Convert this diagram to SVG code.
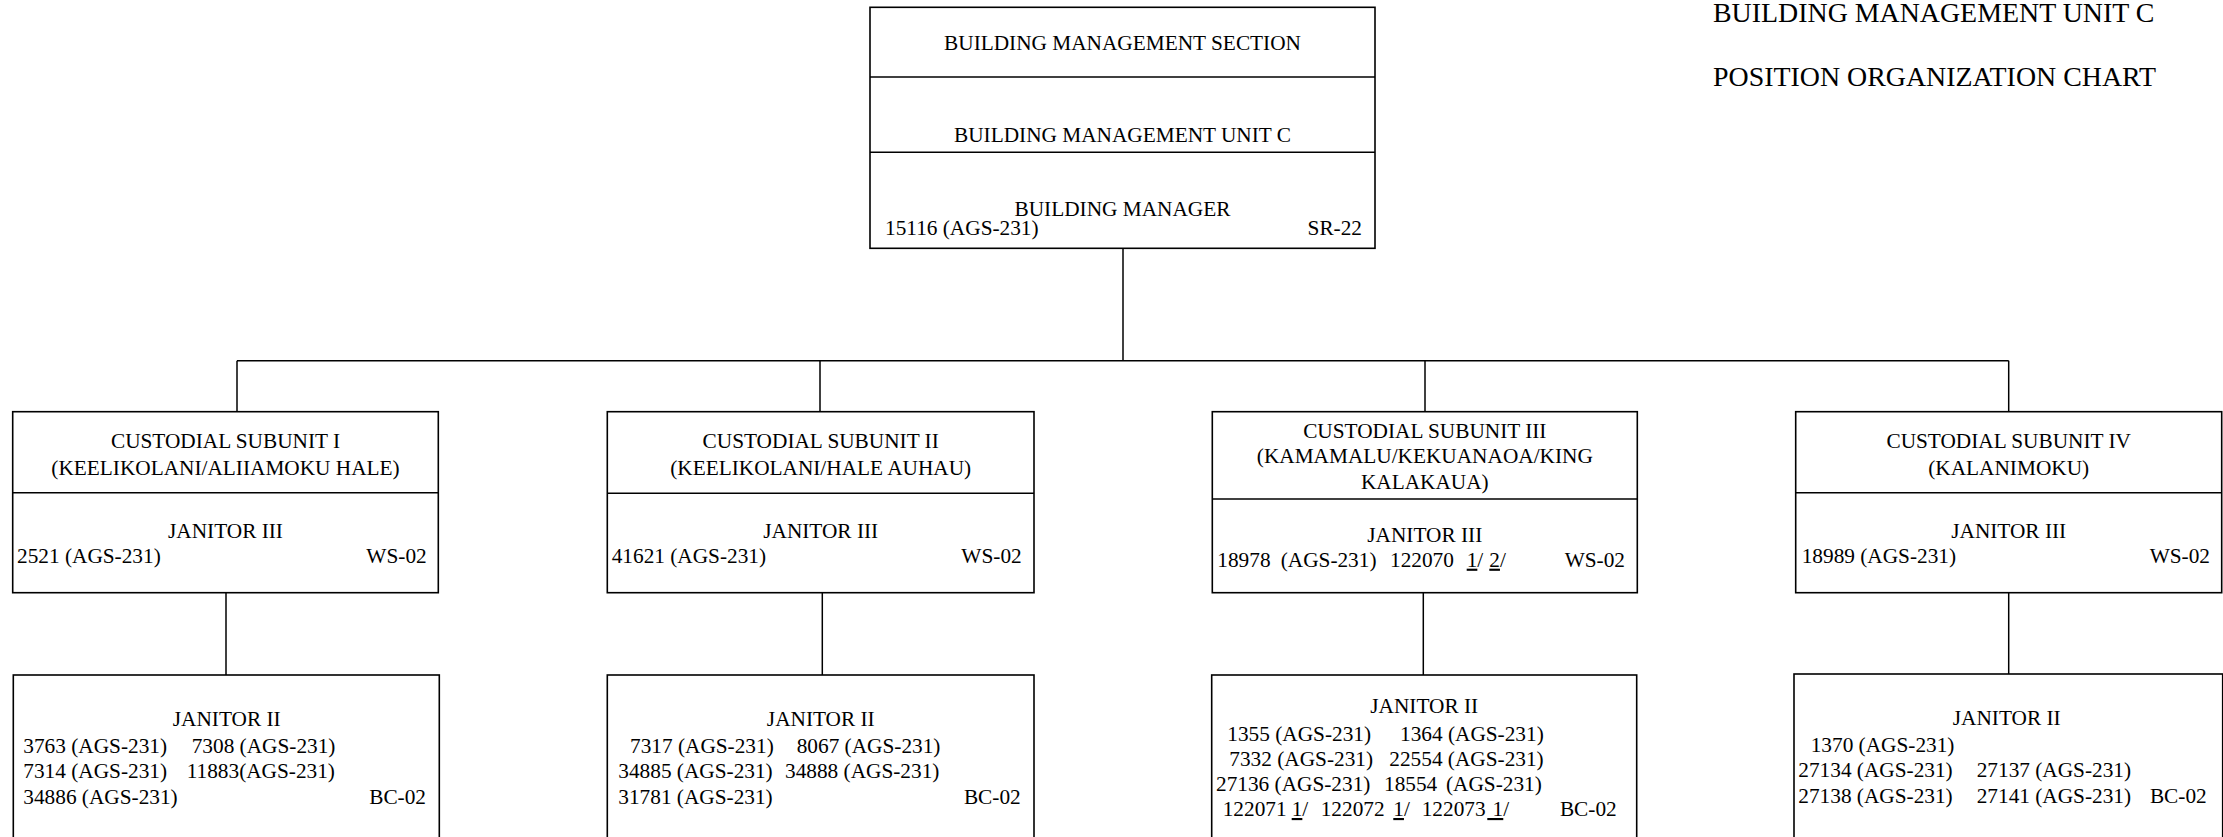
<svg xmlns="http://www.w3.org/2000/svg" width="2223" height="837" viewBox="0 0 2223 837">
<style>
.box{fill:#fff;stroke:#000;stroke-width:1.6}
.div{stroke:#000;stroke-width:1.6}
.con{stroke:#000;stroke-width:1.5;fill:none}
text{font-family:"Liberation Serif","Times New Roman",serif;font-size:21.3px;fill:#000}
.c{text-anchor:middle}
.e{text-anchor:end}
.title{font-size:27.9px}
.u{text-decoration:underline}
</style>
<rect width="2223" height="837" fill="#fff"/>
<g id="title">
<text class="title" x="1713" y="21.5">BUILDING MANAGEMENT UNIT C</text>
<text class="title" x="1713" y="86">POSITION ORGANIZATION CHART</text>
</g>
<g id="connectors">
<line class="con" x1="1123" y1="248" x2="1123" y2="360.7"/>
<line class="con" x1="237" y1="360.7" x2="2008.7" y2="360.7"/>
<line class="con" x1="237" y1="360.7" x2="237" y2="411.7"/>
<line class="con" x1="820" y1="360.7" x2="820" y2="411.7"/>
<line class="con" x1="1425" y1="360.7" x2="1425" y2="411.7"/>
<line class="con" x1="2008.7" y1="360.7" x2="2008.7" y2="411.7"/>
<line class="con" x1="226" y1="592.7" x2="226" y2="675"/>
<line class="con" x1="822.3" y1="592.7" x2="822.3" y2="675"/>
<line class="con" x1="1423.3" y1="592.7" x2="1423.3" y2="675"/>
<line class="con" x1="2008.7" y1="592.7" x2="2008.7" y2="674"/>
</g>
<g id="top">
<rect class="box" x="870" y="7.3" width="505" height="241"/>
<line class="div" x1="870" y1="77" x2="1375" y2="77"/>
<line class="div" x1="870" y1="152.3" x2="1375" y2="152.3"/>
<text class="c" x="1122.5" y="50">BUILDING MANAGEMENT SECTION</text>
<text class="c" x="1122.5" y="142">BUILDING MANAGEMENT UNIT C</text>
<text class="c" x="1122.5" y="216">BUILDING MANAGER</text>
<text x="885" y="235">15116 (AGS-231)</text>
<text class="e" x="1362" y="235">SR-22</text>
</g>
<g id="sub1">
<rect class="box" x="12.7" y="411.7" width="425.6" height="181"/>
<line class="div" x1="12.7" y1="492.7" x2="438.3" y2="492.7"/>
<text class="c" x="225.5" y="448">CUSTODIAL SUBUNIT I</text>
<text class="c" x="225.5" y="475">(KEELIKOLANI/ALIIAMOKU HALE)</text>
<text class="c" x="225.5" y="537.7">JANITOR III</text>
<text x="17" y="563">2521 (AGS-231)</text>
<text class="e" x="426.7" y="563">WS-02</text>
</g>
<g id="sub2">
<rect class="box" x="607.3" y="411.7" width="426.7" height="181"/>
<line class="div" x1="607.3" y1="493.3" x2="1034" y2="493.3"/>
<text class="c" x="820.7" y="448">CUSTODIAL SUBUNIT II</text>
<text class="c" x="820.7" y="475">(KEELIKOLANI/HALE AUHAU)</text>
<text class="c" x="820.7" y="537.7">JANITOR III</text>
<text x="611.7" y="563">41621 (AGS-231)</text>
<text class="e" x="1021.7" y="563">WS-02</text>
</g>
<g id="sub3">
<rect class="box" x="1212.3" y="411.7" width="425" height="181"/>
<line class="div" x1="1212.3" y1="499" x2="1637.3" y2="499"/>
<text class="c" x="1424.8" y="437.7">CUSTODIAL SUBUNIT III</text>
<text class="c" x="1424.8" y="463.3">(KAMAMALU/KEKUANAOA/KING</text>
<text class="c" x="1424.8" y="489.3">KALAKAUA)</text>
<text class="c" x="1424.8" y="541.7">JANITOR III</text>
<text y="566.7"><tspan x="1217.3">18978</tspan><tspan x="1280.7">(AGS-231)</tspan><tspan x="1390">122070</tspan><tspan x="1466.7" class="u">1</tspan><tspan>/</tspan><tspan x="1489.3" class="u">2</tspan><tspan>/</tspan></text>
<text class="e" x="1625" y="566.7">WS-02</text>
</g>
<g id="sub4">
<rect class="box" x="1795.7" y="411.7" width="426" height="181"/>
<line class="div" x1="1795.7" y1="492.7" x2="2221.7" y2="492.7"/>
<text class="c" x="2008.7" y="448">CUSTODIAL SUBUNIT IV</text>
<text class="c" x="2008.7" y="475">(KALANIMOKU)</text>
<text class="c" x="2008.7" y="537.7">JANITOR III</text>
<text x="1801.7" y="563">18989 (AGS-231)</text>
<text class="e" x="2210" y="563">WS-02</text>
</g>
<g id="jan1">
<rect class="box" x="13.3" y="675" width="426" height="170"/>
<text class="c" x="226.7" y="726">JANITOR II</text>
<text y="752.7"><tspan x="23.3">3763 (AGS-231)</tspan><tspan x="191.7">7308 (AGS-231)</tspan></text>
<text y="778.3"><tspan x="23.3">7314 (AGS-231)</tspan><tspan x="186.7">11883(AGS-231)</tspan></text>
<text x="23.3" y="804">34886 (AGS-231)</text>
<text class="e" x="426" y="804">BC-02</text>
</g>
<g id="jan2">
<rect class="box" x="607.3" y="675" width="426.7" height="170"/>
<text class="c" x="820.8" y="726">JANITOR II</text>
<text y="752.7"><tspan x="630">7317 (AGS-231)</tspan><tspan x="796.7">8067 (AGS-231)</tspan></text>
<text y="778.3"><tspan x="618.3">34885 (AGS-231)</tspan><tspan x="785">34888 (AGS-231)</tspan></text>
<text x="618.3" y="804">31781 (AGS-231)</text>
<text class="e" x="1020.7" y="804">BC-02</text>
</g>
<g id="jan3">
<rect class="box" x="1211.7" y="675" width="425" height="170"/>
<text class="c" x="1424.2" y="713.3">JANITOR II</text>
<text y="740.7"><tspan x="1227.3">1355 (AGS-231)</tspan><tspan x="1400">1364 (AGS-231)</tspan></text>
<text y="766"><tspan x="1229.3">7332 (AGS-231)</tspan><tspan x="1389.3">22554 (AGS-231)</tspan></text>
<text y="791"><tspan x="1216">27136 (AGS-231)</tspan><tspan x="1384">18554</tspan><tspan x="1446">(AGS-231)</tspan></text>
<text y="816"><tspan x="1222.7">122071</tspan><tspan x="1291.7" class="u">1</tspan><tspan>/</tspan><tspan x="1320.7">122072</tspan><tspan x="1393.3" class="u">1</tspan><tspan>/</tspan><tspan x="1421.7">122073</tspan><tspan x="1487.3" class="u">&#160;1</tspan><tspan>/</tspan></text>
<text class="e" x="1616.7" y="816">BC-02</text>
</g>
<g id="jan4">
<rect class="box" x="1794" y="674" width="428.7" height="171"/>
<text class="c" x="2006.7" y="725">JANITOR II</text>
<text x="1810.7" y="751.7">1370 (AGS-231)</text>
<text y="777.3"><tspan x="1798.3">27134 (AGS-231)</tspan><tspan x="1976.7">27137 (AGS-231)</tspan></text>
<text y="803.3"><tspan x="1798.3">27138 (AGS-231)</tspan><tspan x="1976.7">27141 (AGS-231)</tspan></text>
<text class="e" x="2206.7" y="803.3">BC-02</text>
</g>
</svg>
